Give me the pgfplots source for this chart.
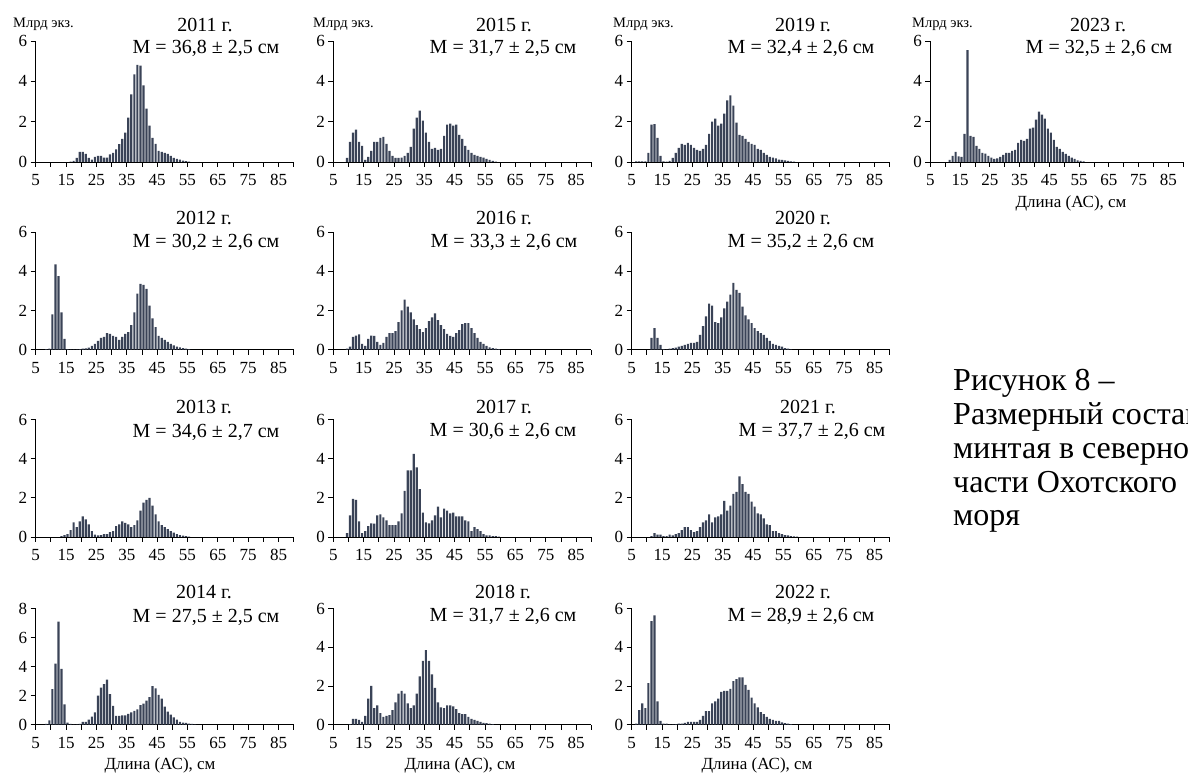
\documentclass[border=0pt]{standalone}
\usepackage{fontspec}
\setmainfont{Liberation Serif}
\usepackage{pgfplots}
\pgfplotsset{compat=1.18}
\definecolor{barc}{HTML}{3A4357}
\pgfplotsset{
  hist/.style={
    scale only axis, anchor=south west,
    width=258pt, height=#1,
    xmin=4.5, xmax=89.5, ymin=0, ymax=6,
    axis x line*=bottom, axis y line*=left,
    tick pos=left,
    axis line style={-, line width=0.8pt, black},
    xtick={4.5,9.5,14.5,19.5,24.5,29.5,34.5,39.5,44.5,49.5,54.5,59.5,64.5,69.5,74.5,79.5,84.5,89.5},
    xticklabels={5,,15,,25,,35,,45,,55,,65,,75,,85,},
    ytick={0,2,4,6,8},
    tick align=outside,
    major tick length=5pt,
    tick style={black, line width=0.8pt},
    tick label style={font=\fontsize{17}{17}\selectfont},
    xticklabel style={yshift=-4pt},
    /pgf/number format/assume math mode=true,
    ybar, bar width=0.72,
    every axis plot post/.append style={fill=barc, draw=none},
  },
}
\newcommand{\ttl}{\fontsize{20}{24}\selectfont}
\newcommand{\ylb}{\fontsize{14.5}{16}\selectfont}
\newcommand{\xlb}{\fontsize{17}{20}\selectfont}
\newcommand{\capf}{\fontsize{32}{37}\selectfont}
\begin{document}
\begin{tikzpicture}[x=1pt,y=1pt]
\useasboundingbox (0,0) rectangle (1188,773);

% ---------- Row 1 ----------
\begin{axis}[hist=121pt, at={(35.7pt,611pt)}]
\addplot coordinates {(16,0.02)(17,0.05)(18,0.2)(19,0.5)(20,0.5)(21,0.4)(22,0.2)(23,0.12)(24,0.25)(25,0.3)(26,0.3)(27,0.22)(28,0.22)(29,0.38)(30,0.45)(31,0.62)(32,0.88)(33,1.15)(34,1.45)(35,2.2)(36,3.35)(37,4.35)(38,4.82)(39,4.78)(40,3.8)(41,2.65)(42,1.8)(43,1.2)(44,0.9)(45,0.55)(46,0.5)(47,0.45)(48,0.4)(49,0.3)(50,0.2)(51,0.15)(52,0.12)(53,0.07)(54,0.04)(55,0.02)};
\end{axis}
\begin{axis}[hist=121pt, at={(333.3pt,611pt)}]
\addplot coordinates {(9,0.2)(10,1.0)(11,1.45)(12,1.6)(13,1.0)(14,0.8)(15,0.1)(16,0.25)(17,0.55)(18,1.0)(19,1.0)(20,1.2)(21,1.25)(22,0.9)(23,0.55)(24,0.3)(25,0.2)(26,0.2)(27,0.22)(28,0.3)(29,0.45)(30,0.75)(31,1.65)(32,2.2)(33,2.55)(34,2.05)(35,1.45)(36,1.0)(37,0.65)(38,0.7)(39,0.6)(40,0.65)(41,1.3)(42,1.85)(43,1.9)(44,1.8)(45,1.85)(46,1.35)(47,1.15)(48,0.8)(49,0.6)(50,0.45)(51,0.35)(52,0.3)(53,0.25)(54,0.22)(55,0.15)(56,0.1)(57,0.05)(58,0.02)};
\end{axis}
\begin{axis}[hist=121pt, at={(631.7pt,611pt)}]
\addplot coordinates {(6,0.03)(7,0.03)(8,0.03)(9,0.03)(10,0.45)(11,1.85)(12,1.88)(13,1.2)(14,0.3)(15,0.03)(16,0.02)(17,0.05)(18,0.2)(19,0.45)(20,0.7)(21,0.9)(22,0.85)(23,0.95)(24,0.85)(25,0.7)(26,0.6)(27,0.55)(28,0.65)(29,0.85)(30,1.4)(31,2.0)(32,2.15)(33,1.8)(34,1.9)(35,2.4)(36,3.05)(37,3.3)(38,2.8)(39,1.95)(40,1.35)(41,1.3)(42,1.15)(43,1.0)(44,0.9)(45,0.85)(46,0.65)(47,0.6)(48,0.45)(49,0.35)(50,0.25)(51,0.22)(52,0.18)(53,0.12)(54,0.1)(55,0.08)(56,0.05)(57,0.03)(58,0.02)};
\end{axis}
\begin{axis}[hist=121pt, width=253pt, at={(930.3pt,611pt)}]
\addplot coordinates {(11,0.1)(12,0.3)(13,0.5)(14,0.28)(15,0.25)(16,1.4)(17,5.55)(18,1.3)(19,1.25)(20,0.8)(21,0.65)(22,0.45)(23,0.42)(24,0.3)(25,0.22)(26,0.15)(27,0.18)(28,0.25)(29,0.35)(30,0.45)(31,0.45)(32,0.55)(33,0.6)(34,0.95)(35,1.1)(36,1.05)(37,1.15)(38,1.65)(39,1.7)(40,2.1)(41,2.5)(42,2.35)(43,2.15)(44,1.65)(45,1.45)(46,1.1)(47,0.75)(48,0.65)(49,0.5)(50,0.4)(51,0.3)(52,0.22)(53,0.15)(54,0.08)(55,0.05)(56,0.03)};
\end{axis}

% ---------- Row 2 ----------
\begin{axis}[hist=117.8pt, at={(35.7pt,423.3pt)}]
\addplot coordinates {(8,0.03)(9,0.05)(10,1.8)(11,4.35)(12,3.75)(13,1.9)(14,0.55)(15,0.03)(16,0.02)(17,0.02)(18,0.02)(19,0.03)(20,0.05)(21,0.07)(22,0.1)(23,0.2)(24,0.3)(25,0.45)(26,0.6)(27,0.65)(28,0.85)(29,0.8)(30,0.7)(31,0.65)(32,0.5)(33,0.65)(34,0.8)(35,0.9)(36,1.25)(37,1.9)(38,2.85)(39,3.35)(40,3.3)(41,3.1)(42,2.25)(43,1.6)(44,1.15)(45,0.7)(46,0.6)(47,0.5)(48,0.4)(49,0.3)(50,0.22)(51,0.15)(52,0.12)(53,0.08)(54,0.05)(55,0.03)};
\end{axis}
\begin{axis}[hist=117.8pt, at={(333.3pt,423.3pt)}]
\addplot coordinates {(9,0.05)(10,0.15)(11,0.65)(12,0.72)(13,0.78)(14,0.3)(15,0.2)(16,0.55)(17,0.72)(18,0.7)(19,0.4)(20,0.25)(21,0.35)(22,0.65)(23,0.85)(24,0.85)(25,0.95)(26,1.4)(27,2.0)(28,2.55)(29,2.2)(30,1.9)(31,1.55)(32,1.25)(33,1.05)(34,0.9)(35,1.1)(36,1.45)(37,1.65)(38,1.85)(39,1.5)(40,1.25)(41,1.05)(42,0.8)(43,0.7)(44,0.65)(45,0.85)(46,1.0)(47,1.3)(48,1.35)(49,1.35)(50,1.1)(51,0.85)(52,0.6)(53,0.4)(54,0.3)(55,0.2)(56,0.12)(57,0.08)(58,0.05)(59,0.03)};
\end{axis}
\begin{axis}[hist=117.8pt, at={(631.7pt,423.3pt)}]
\addplot coordinates {(11,0.6)(12,1.1)(13,0.6)(14,0.25)(15,0.03)(16,0.02)(17,0.05)(18,0.08)(19,0.1)(20,0.15)(21,0.2)(22,0.25)(23,0.3)(24,0.35)(25,0.35)(26,0.4)(27,0.75)(28,1.2)(29,1.7)(30,2.35)(31,2.25)(32,1.4)(33,1.35)(34,1.65)(35,2.1)(36,2.45)(37,2.8)(38,3.4)(39,3.05)(40,2.9)(41,2.2)(42,1.75)(43,1.55)(44,1.35)(45,1.1)(46,0.95)(47,0.85)(48,0.75)(49,0.6)(50,0.45)(51,0.3)(52,0.25)(53,0.2)(54,0.15)(55,0.08)(56,0.05)(57,0.02)};
\end{axis}

% ---------- Row 3 ----------
\begin{axis}[hist=117.5pt, at={(35.7pt,236pt)}]
\addplot coordinates {(13,0.05)(14,0.1)(15,0.15)(16,0.35)(17,0.75)(18,0.5)(19,0.8)(20,1.05)(21,0.9)(22,0.65)(23,0.3)(24,0.12)(25,0.08)(26,0.1)(27,0.15)(28,0.15)(29,0.25)(30,0.3)(31,0.55)(32,0.65)(33,0.8)(34,0.72)(35,0.65)(36,0.5)(37,0.6)(38,0.85)(39,1.35)(40,1.75)(41,1.9)(42,2.0)(43,1.6)(44,1.15)(45,0.8)(46,0.6)(47,0.5)(48,0.4)(49,0.3)(50,0.22)(51,0.15)(52,0.1)(53,0.07)(54,0.04)(55,0.02)};
\end{axis}
\begin{axis}[hist=117.5pt, at={(333.3pt,236pt)}]
\addplot coordinates {(9,0.2)(10,1.1)(11,1.95)(12,1.9)(13,0.8)(14,0.2)(15,0.3)(16,0.55)(17,0.7)(18,0.68)(19,1.1)(20,1.15)(21,1.0)(22,0.85)(23,0.6)(24,0.6)(25,0.6)(26,0.8)(27,1.2)(28,2.35)(29,3.4)(30,3.4)(31,4.25)(32,3.55)(33,2.45)(34,1.25)(35,0.75)(36,0.7)(37,0.85)(38,1.1)(39,1.55)(40,1.0)(41,1.45)(42,1.35)(43,1.2)(44,1.25)(45,1.05)(46,1.05)(47,1.05)(48,0.85)(49,0.8)(50,0.3)(51,0.5)(52,0.4)(53,0.3)(54,0.15)(55,0.08)(56,0.08)(57,0.05)(58,0.04)(59,0.02)};
\end{axis}
\begin{axis}[hist=117.5pt, at={(631.7pt,236pt)}]
\addplot coordinates {(11,0.05)(12,0.2)(13,0.12)(14,0.12)(15,0.05)(16,0.05)(17,0.12)(18,0.08)(19,0.15)(20,0.2)(21,0.35)(22,0.5)(23,0.5)(24,0.35)(25,0.25)(26,0.3)(27,0.5)(28,0.75)(29,0.85)(30,1.15)(31,0.75)(32,1.0)(33,1.05)(34,1.15)(35,1.85)(36,1.35)(37,1.6)(38,2.2)(39,2.3)(40,3.1)(41,2.7)(42,2.3)(43,2.2)(44,1.8)(45,1.55)(46,1.2)(47,1.15)(48,0.95)(49,0.65)(50,0.6)(51,0.3)(52,0.3)(53,0.2)(54,0.15)(55,0.1)(56,0.08)(57,0.05)(58,0.03)(59,0.02)};
\end{axis}

% ---------- Row 4 ----------
\begin{axis}[hist=116.2pt, ymax=8, at={(35.7pt,48.3pt)}]
\addplot coordinates {(8,0.05)(9,0.3)(10,2.45)(11,4.2)(12,7.1)(13,3.85)(14,1.4)(15,0.15)(16,0.05)(17,0.03)(18,0.03)(19,0.05)(20,0.2)(21,0.2)(22,0.35)(23,0.55)(24,0.85)(25,2.0)(26,2.55)(27,2.8)(28,3.1)(29,2.1)(30,1.3)(31,0.6)(32,0.6)(33,0.65)(34,0.65)(35,0.75)(36,0.85)(37,0.95)(38,1.05)(39,1.35)(40,1.45)(41,1.65)(42,1.9)(43,2.65)(44,2.5)(45,2.05)(46,1.8)(47,1.25)(48,0.9)(49,0.7)(50,0.5)(51,0.35)(52,0.2)(53,0.15)(54,0.12)(55,0.08)(56,0.05)(57,0.03)};
\end{axis}
\begin{axis}[hist=116.2pt, at={(333.3pt,48.3pt)}]
\addplot coordinates {(10,0.03)(11,0.3)(12,0.3)(13,0.25)(14,0.15)(15,0.45)(16,1.35)(17,2.0)(18,0.85)(19,1.0)(20,0.6)(21,0.4)(22,0.45)(23,0.5)(24,0.75)(25,1.15)(26,1.6)(27,1.75)(28,1.6)(29,1.1)(30,0.85)(31,1.0)(32,1.6)(33,2.5)(34,3.3)(35,3.85)(36,3.3)(37,2.6)(38,1.9)(39,1.15)(40,0.9)(41,0.85)(42,1.0)(43,1.0)(44,0.95)(45,0.8)(46,0.6)(47,0.55)(48,0.55)(49,0.4)(50,0.3)(51,0.25)(52,0.2)(53,0.15)(54,0.1)(55,0.08)(56,0.05)(57,0.03)};
\end{axis}
\begin{axis}[hist=116.2pt, at={(631.7pt,48.3pt)}]
\addplot coordinates {(6,0.05)(7,0.75)(8,1.1)(9,0.85)(10,2.15)(11,5.35)(12,5.65)(13,1.2)(14,0.2)(15,0.05)(16,0.05)(17,0.02)(18,0.02)(19,0.03)(20,0.05)(21,0.05)(22,0.1)(23,0.15)(24,0.15)(25,0.15)(26,0.15)(27,0.25)(28,0.45)(29,0.7)(30,0.7)(31,1.1)(32,1.2)(33,1.35)(34,1.7)(35,1.75)(36,1.75)(37,1.85)(38,2.25)(39,2.35)(40,2.45)(41,2.45)(42,2.05)(43,1.8)(44,1.4)(45,1.1)(46,0.9)(47,0.65)(48,0.55)(49,0.4)(50,0.3)(51,0.25)(52,0.2)(53,0.2)(54,0.12)(55,0.08)(56,0.05)(57,0.03)};
\end{axis}

% ---------- Texts ----------
\foreach \xx in {13,313,613,912} {\node[anchor=west, inner sep=0pt, font=\ylb] at (\xx,749) {Млрд экз.};}

\node[font=\ttl] at (205,748) {2011 г.};
\node[font=\ttl] at (206,725) {M = 36,8 ± 2,5 см};
\node[font=\ttl] at (504,748) {2015 г.};
\node[font=\ttl] at (503,725) {M = 31,7 ± 2,5 см};
\node[font=\ttl] at (803,748) {2019 г.};
\node[font=\ttl] at (801,725) {M = 32,4 ± 2,6 см};
\node[font=\ttl] at (1098,748) {2023 г.};
\node[font=\ttl] at (1099,725) {M = 32,5 ± 2,6 см};

\node[font=\ttl] at (204,555) {2012 г.};
\node[font=\ttl] at (206,531) {M = 30,2 ± 2,6 см};
\node[font=\ttl] at (504,555) {2016 г.};
\node[font=\ttl] at (504,531) {M = 33,3 ± 2,6 см};
\node[font=\ttl] at (803,555) {2020 г.};
\node[font=\ttl] at (801,531) {M = 35,2 ± 2,6 см};

\node[font=\ttl] at (204,366) {2013 г.};
\node[font=\ttl] at (206,341) {M = 34,6 ± 2,7 см};
\node[font=\ttl] at (504,366) {2017 г.};
\node[font=\ttl] at (503,342) {M = 30,6 ± 2,6 см};
\node[font=\ttl] at (808,366) {2021 г.};
\node[font=\ttl] at (812,342) {M = 37,7 ± 2,6 см};

\node[font=\ttl] at (204,181) {2014 г.};
\node[font=\ttl] at (206,156) {M = 27,5 ± 2,5 см};
\node[font=\ttl] at (503,181) {2018 г.};
\node[font=\ttl] at (503,157) {M = 31,7 ± 2,6 см};
\node[font=\ttl] at (803,181) {2022 г.};
\node[font=\ttl] at (801,157) {M = 28,9 ± 2,6 см};

\node[font=\xlb] at (160,8) {Длина (АС), см};
\node[font=\xlb] at (460,8) {Длина (АС), см};
\node[font=\xlb] at (757,8) {Длина (АС), см};
\node[font=\xlb] at (1071,570) {Длина (АС), см};

\begin{scope}
\clip (0,0) rectangle (1188,773);
\node[anchor=base west, inner sep=0pt, font=\capf] at (953,382) {Рисунок 8 –};
\node[anchor=base west, inner sep=0pt, font=\capf] at (953,348.3) {Размерный состав};
\node[anchor=base west, inner sep=0pt, font=\capf] at (953,314.6) {минтая в северной};
\node[anchor=base west, inner sep=0pt, font=\capf] at (953,280.9) {части Охотского};
\node[anchor=base west, inner sep=0pt, font=\capf] at (953,247.2) {моря};
\end{scope}
\end{tikzpicture}
\end{document}
